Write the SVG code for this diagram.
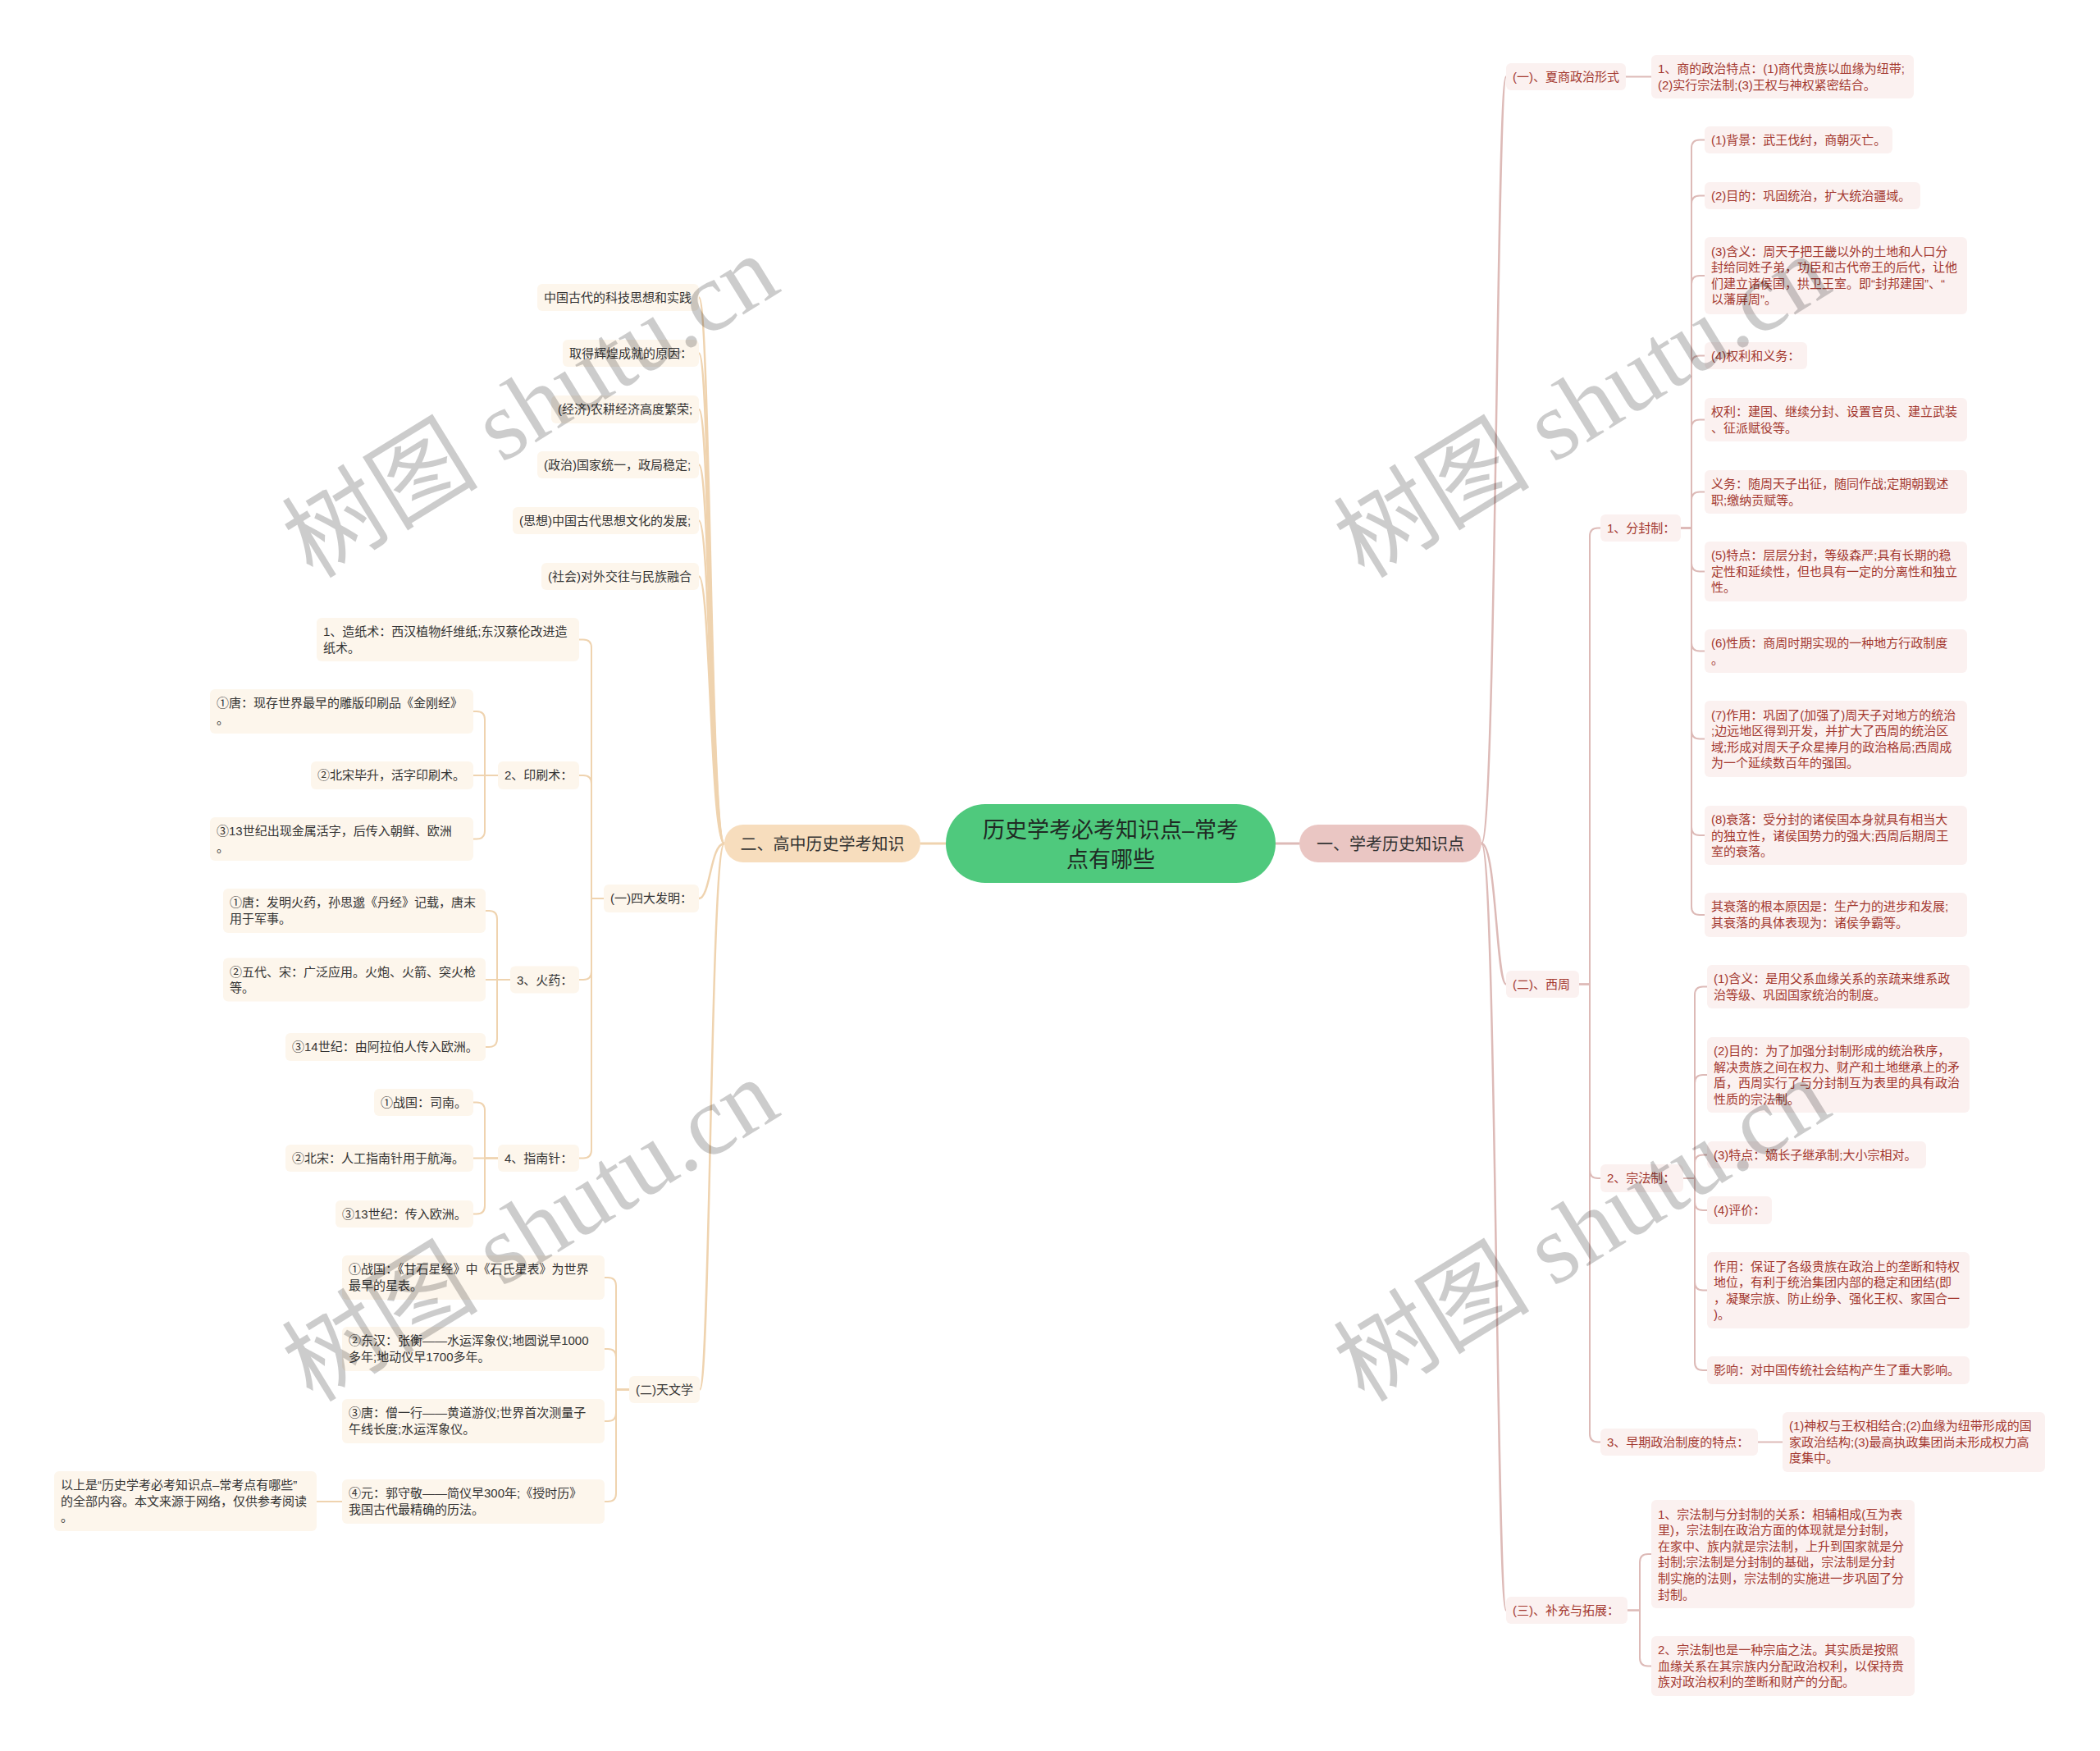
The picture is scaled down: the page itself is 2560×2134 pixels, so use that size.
<svg xmlns="http://www.w3.org/2000/svg" width="2560" height="2134" viewBox="0 0 2560 2134">
<style>
.t{font-family:"Liberation Sans","Noto Sans CJK SC",sans-serif;font-size:15px}
.tl{fill:#333333}
.tr{fill:#A3382F}
.bl{fill:#FDF6EC}
.br{fill:#FBF1F0}
.cl{fill:none;stroke:#EFD3AF;stroke-width:2}
.cr{fill:none;stroke:#DDBAB7;stroke-width:2}
.cl2{fill:none;stroke:#EFD3AF;stroke-width:2.5}
.cr2{fill:none;stroke:#DDBAB7;stroke-width:2.5}
.m{font-family:"Liberation Sans","Noto Sans CJK SC",sans-serif;font-size:20px;fill:#333333;text-anchor:middle}
.c{font-family:"Liberation Sans","Noto Sans CJK SC",sans-serif;font-size:27px;fill:#1f2a24;text-anchor:middle}
.wm{font-family:"Liberation Serif","Noto Sans CJK SC",serif;font-size:120px;fill:#000000;fill-opacity:0.2;text-anchor:middle}
</style>
<rect x="0" y="0" width="2560" height="2134" fill="#FFFFFF"/>
<g id="connectors">
<path class="cl2" d="M1153 1028 H1122" style="stroke-width:3"/>
<path class="cr2" d="M1555 1028 H1584" style="stroke-width:3"/>
<path class="cl2" d="M883 1028 C866 1028 866 362.5 852 362.5"/>
<path class="cl2" d="M883 1028 C866 1028 866 430.5 852 430.5"/>
<path class="cl2" d="M883 1028 C866 1028 866 499 852 499"/>
<path class="cl2" d="M883 1028 C866 1028 866 566.5 852 566.5"/>
<path class="cl2" d="M883 1028 C866 1028 866 634.5 852 634.5"/>
<path class="cl2" d="M883 1028 C866 1028 866 702.5 852 702.5"/>
<path class="cl2" d="M883 1028 C866 1028 866 1095 852 1095"/>
<path class="cl2" d="M883 1028 C866 1028 866 1693.5 853 1693.5"/>
<path class="cl" d="M736 1095 H721 V789.5 Q721 779.5 711 779.5 H706"/>
<path class="cl" d="M736 1095 H721 V955 Q721 945 711 945 H706"/>
<path class="cl" d="M736 1095 H721 V1184 Q721 1194 711 1194 H706"/>
<path class="cl" d="M736 1095 H721 V1401.5 Q721 1411.5 711 1411.5 H706"/>
<path class="cl" d="M607 945 H591 V877 Q591 867 581 867 H577"/>
<path class="cl" d="M607 945 H577"/>
<path class="cl" d="M607 945 H591 V1012.5 Q591 1022.5 581 1022.5 H577"/>
<path class="cl" d="M622 1194 H606 V1120 Q606 1110 596 1110 H592"/>
<path class="cl" d="M622 1194 H592"/>
<path class="cl" d="M622 1194 H606 V1266 Q606 1276 596 1276 H592"/>
<path class="cl" d="M607 1411.5 H591 V1353.5 Q591 1343.5 581 1343.5 H577"/>
<path class="cl" d="M607 1411.5 H577"/>
<path class="cl" d="M607 1411.5 H591 V1469.5 Q591 1479.5 581 1479.5 H577"/>
<path class="cl" d="M767 1693.5 H751 V1567 Q751 1557 741 1557 H737"/>
<path class="cl" d="M767 1693.5 H751 V1654 Q751 1644 741 1644 H737"/>
<path class="cl" d="M767 1693.5 H751 V1722 Q751 1732 741 1732 H737"/>
<path class="cl" d="M767 1693.5 H751 V1820 Q751 1830 741 1830 H737"/>
<path class="cl" d="M417 1830 H386"/>
<path class="cr2" d="M1806 1028 C1824 1028 1824 93.5 1836 93.5"/>
<path class="cr2" d="M1806 1028 C1824 1028 1824 1199.5 1836 1199.5"/>
<path class="cr2" d="M1806 1028 C1824 1028 1824 1962.5 1836 1962.5"/>
<path class="cr" d="M1982 93.5 H2013"/>
<path class="cr" d="M1925 1199.5 H1938 V653.5 Q1938 643.5 1948 643.5 H1951"/>
<path class="cr" d="M1925 1199.5 H1938 V1426 Q1938 1436 1948 1436 H1951"/>
<path class="cr" d="M1925 1199.5 H1938 V1747.5 Q1938 1757.5 1948 1757.5 H1951"/>
<path class="cr" d="M2049 643.5 H2062 V180.5 Q2062 170.5 2072 170.5 H2078"/>
<path class="cr" d="M2049 643.5 H2062 V248.5 Q2062 238.5 2072 238.5 H2078"/>
<path class="cr" d="M2049 643.5 H2062 V346 Q2062 336 2072 336 H2078"/>
<path class="cr" d="M2049 643.5 H2062 V443.5 Q2062 433.5 2072 433.5 H2078"/>
<path class="cr" d="M2049 643.5 H2062 V521.5 Q2062 511.5 2072 511.5 H2078"/>
<path class="cr" d="M2049 643.5 H2062 V609.5 Q2062 599.5 2072 599.5 H2078"/>
<path class="cr" d="M2049 643.5 H2062 V686.5 Q2062 696.5 2072 696.5 H2078"/>
<path class="cr" d="M2049 643.5 H2062 V783.5 Q2062 793.5 2072 793.5 H2078"/>
<path class="cr" d="M2049 643.5 H2062 V890.5 Q2062 900.5 2072 900.5 H2078"/>
<path class="cr" d="M2049 643.5 H2062 V1008 Q2062 1018 2072 1018 H2078"/>
<path class="cr" d="M2049 643.5 H2062 V1105 Q2062 1115 2072 1115 H2078"/>
<path class="cr" d="M2052 1436 H2066 V1212.5 Q2066 1202.5 2076 1202.5 H2081"/>
<path class="cr" d="M2052 1436 H2066 V1320 Q2066 1310 2076 1310 H2081"/>
<path class="cr" d="M2052 1436 H2066 V1417.5 Q2066 1407.5 2076 1407.5 H2081"/>
<path class="cr" d="M2052 1436 H2066 V1465 Q2066 1475 2076 1475 H2081"/>
<path class="cr" d="M2052 1436 H2066 V1562.5 Q2066 1572.5 2076 1572.5 H2081"/>
<path class="cr" d="M2052 1436 H2066 V1660 Q2066 1670 2076 1670 H2081"/>
<path class="cr" d="M2143 1757.5 H2173"/>
<path class="cr" d="M1984 1962.5 H1999 V1904 Q1999 1894 2009 1894 H2013"/>
<path class="cr" d="M1984 1962.5 H1999 V2020.5 Q1999 2030.5 2009 2030.5 H2013"/>
</g>
<g id="center">
<rect x="1153" y="980" width="402" height="96" rx="48" fill="#4FC97D"/>
<text class="c" x="1354" y="1021">历史学考必考知识点–常考</text>
<text class="c" x="1354" y="1057">点有哪些</text>
</g>
<g id="main-left">
<rect x="883" y="1005" width="239" height="46" rx="23" fill="#F7DDBD"/>
<text class="m" x="1002.5" y="1036">二、高中历史学考知识</text>
</g>
<g id="main-right">
<rect x="1584" y="1005" width="222" height="46" rx="23" fill="#EAC6C3"/>
<text class="m" x="1695" y="1036">一、学考历史知识点</text>
</g>
<g id="L1"><rect class="bl" x="655" y="346" width="197" height="33" rx="6"/><text class="t tl" x="663" y="368">中国古代的科技思想和实践</text></g>
<g id="L2"><rect class="bl" x="686" y="414" width="166" height="33" rx="6"/><text class="t tl" x="694" y="436">取得辉煌成就的原因：</text></g>
<g id="L3"><rect class="bl" x="672" y="482" width="180" height="34" rx="6"/><text class="t tl" x="680" y="504">(经济)农耕经济高度繁荣;</text></g>
<g id="L4"><rect class="bl" x="655" y="550" width="197" height="33" rx="6"/><text class="t tl" x="663" y="572">(政治)国家统一，政局稳定;</text></g>
<g id="L5"><rect class="bl" x="625" y="618" width="227" height="33" rx="6"/><text class="t tl" x="633" y="640">(思想)中国古代思想文化的发展;</text></g>
<g id="L6"><rect class="bl" x="660" y="686" width="192" height="33" rx="6"/><text class="t tl" x="668" y="708">(社会)对外交往与民族融合</text></g>
<g id="L7"><rect class="bl" x="736" y="1078" width="116" height="34" rx="6"/><text class="t tl" x="744" y="1100">(一)四大发明：</text></g>
<g id="L8"><rect class="bl" x="767" y="1677" width="86" height="33" rx="6"/><text class="t tl" x="775" y="1699">(二)天文学</text></g>
<g id="A1"><rect class="bl" x="386" y="753" width="320" height="53" rx="6"/><text class="t tl"><tspan x="394" y="775">1、造纸术：西汉植物纤维纸;东汉蔡伦改进造</tspan><tspan x="394" y="794.6">纸术。</tspan></text></g>
<g id="A2"><rect class="bl" x="607" y="928" width="99" height="34" rx="6"/><text class="t tl" x="615" y="950">2、印刷术：</text></g>
<g id="A3"><rect class="bl" x="622" y="1177.5" width="84" height="33" rx="6"/><text class="t tl" x="630" y="1199.5">3、火药：</text></g>
<g id="A4"><rect class="bl" x="607" y="1395" width="99" height="33" rx="6"/><text class="t tl" x="615" y="1417">4、指南针：</text></g>
<g id="B1"><rect class="bl" x="256" y="840" width="321" height="54" rx="6"/><text class="t tl"><tspan x="264" y="862">①唐：现存世界最早的雕版印刷品《金刚经》</tspan><tspan x="264" y="881.6">。</tspan></text></g>
<g id="B2"><rect class="bl" x="379" y="928" width="198" height="34" rx="6"/><text class="t tl" x="387" y="950">②北宋毕升，活字印刷术。</text></g>
<g id="B3"><rect class="bl" x="256" y="996" width="321" height="53" rx="6"/><text class="t tl"><tspan x="264" y="1018">③13世纪出现金属活字，后传入朝鲜、欧洲</tspan><tspan x="264" y="1037.6">。</tspan></text></g>
<g id="C1"><rect class="bl" x="272" y="1083" width="320" height="54" rx="6"/><text class="t tl"><tspan x="280" y="1105">①唐：发明火药，孙思邈《丹经》记载，唐末</tspan><tspan x="280" y="1124.6">用于军事。</tspan></text></g>
<g id="C2"><rect class="bl" x="272" y="1167.5" width="320" height="53" rx="6"/><text class="t tl"><tspan x="280" y="1189.5">②五代、宋：广泛应用。火炮、火箭、突火枪</tspan><tspan x="280" y="1209.1">等。</tspan></text></g>
<g id="C3"><rect class="bl" x="348" y="1259" width="244" height="34" rx="6"/><text class="t tl" x="356" y="1281">③14世纪：由阿拉伯人传入欧洲。</text></g>
<g id="D1"><rect class="bl" x="456" y="1327" width="121" height="33" rx="6"/><text class="t tl" x="464" y="1349">①战国：司南。</text></g>
<g id="D2"><rect class="bl" x="348" y="1395" width="229" height="33" rx="6"/><text class="t tl" x="356" y="1417">②北宋：人工指南针用于航海。</text></g>
<g id="D3"><rect class="bl" x="409" y="1463" width="168" height="33" rx="6"/><text class="t tl" x="417" y="1485">③13世纪：传入欧洲。</text></g>
<g id="E1"><rect class="bl" x="417" y="1530" width="320" height="54" rx="6"/><text class="t tl"><tspan x="425" y="1552">①战国：《甘石星经》中《石氏星表》为世界</tspan><tspan x="425" y="1571.6">最早的星表。</tspan></text></g>
<g id="E2"><rect class="bl" x="417" y="1617" width="320" height="54" rx="6"/><text class="t tl"><tspan x="425" y="1639">②东汉：张衡——水运浑象仪;地圆说早1000</tspan><tspan x="425" y="1658.6">多年;地动仪早1700多年。</tspan></text></g>
<g id="E3"><rect class="bl" x="417" y="1705" width="320" height="54" rx="6"/><text class="t tl"><tspan x="425" y="1727">③唐：僧一行——黄道游仪;世界首次测量子</tspan><tspan x="425" y="1746.6">午线长度;水运浑象仪。</tspan></text></g>
<g id="E4"><rect class="bl" x="417" y="1803" width="320" height="54" rx="6"/><text class="t tl"><tspan x="425" y="1825">④元：郭守敬——简仪早300年;《授时历》</tspan><tspan x="425" y="1844.6">我国古代最精确的历法。</tspan></text></g>
<g id="S"><rect class="bl" x="66" y="1793" width="320" height="73" rx="6"/><text class="t tl"><tspan x="74" y="1815">以上是“历史学考必考知识点–常考点有哪些”</tspan><tspan x="74" y="1834.6">的全部内容。本文来源于网络，仅供参考阅读</tspan><tspan x="74" y="1854.2">。</tspan></text></g>
<g id="R1"><rect class="br" x="1836" y="77" width="146" height="33" rx="6"/><text class="t tr" x="1844" y="99">(一)、夏商政治形式</text></g>
<g id="R1a"><rect class="br" x="2013" y="67" width="320" height="53" rx="6"/><text class="t tr"><tspan x="2021" y="89">1、商的政治特点：(1)商代贵族以血缘为纽带;</tspan><tspan x="2021" y="108.6">(2)实行宗法制;(3)王权与神权紧密结合。</tspan></text></g>
<g id="R2"><rect class="br" x="1836" y="1183" width="89" height="33" rx="6"/><text class="t tr" x="1844" y="1205">(二)、西周</text></g>
<g id="R3"><rect class="br" x="1836" y="1946" width="148" height="33" rx="6"/><text class="t tr" x="1844" y="1968">(三)、补充与拓展：</text></g>
<g id="F1"><rect class="br" x="1951" y="627" width="98" height="33" rx="6"/><text class="t tr" x="1959" y="649">1、分封制：</text></g>
<g id="F2"><rect class="br" x="1951" y="1419" width="101" height="34" rx="6"/><text class="t tr" x="1959" y="1441">2、宗法制：</text></g>
<g id="F3"><rect class="br" x="1951" y="1741" width="192" height="33" rx="6"/><text class="t tr" x="1959" y="1763">3、早期政治制度的特点：</text></g>
<g id="F3a"><rect class="br" x="2173" y="1721" width="320" height="73" rx="6"/><text class="t tr"><tspan x="2181" y="1743">(1)神权与王权相结合;(2)血缘为纽带形成的国</tspan><tspan x="2181" y="1762.6">家政治结构;(3)最高执政集团尚未形成权力高</tspan><tspan x="2181" y="1782.2">度集中。</tspan></text></g>
<g id="G1"><rect class="br" x="2078" y="154" width="229" height="33" rx="6"/><text class="t tr" x="2086" y="176">(1)背景：武王伐纣，商朝灭亡。</text></g>
<g id="G2"><rect class="br" x="2078" y="222" width="263" height="33" rx="6"/><text class="t tr" x="2086" y="244">(2)目的：巩固统治，扩大统治疆域。</text></g>
<g id="G3"><rect class="br" x="2078" y="289" width="320" height="94" rx="6"/><text class="t tr"><tspan x="2086" y="311.5">(3)含义：周天子把王畿以外的土地和人口分</tspan><tspan x="2086" y="331.1">封给同姓子弟，功臣和古代帝王的后代，让他</tspan><tspan x="2086" y="350.7">们建立诸侯国，拱卫王室。即“封邦建国”、“</tspan><tspan x="2086" y="370.3">以藩屏周”。</tspan></text></g>
<g id="G4"><rect class="br" x="2078" y="417" width="125" height="33" rx="6"/><text class="t tr" x="2086" y="439">(4)权利和义务：</text></g>
<g id="G5"><rect class="br" x="2078" y="485" width="320" height="53" rx="6"/><text class="t tr"><tspan x="2086" y="507">权利：建国、继续分封、设置官员、建立武装</tspan><tspan x="2086" y="526.6">、征派赋役等。</tspan></text></g>
<g id="G6"><rect class="br" x="2078" y="573" width="320" height="53" rx="6"/><text class="t tr"><tspan x="2086" y="595">义务：随周天子出征，随同作战;定期朝觐述</tspan><tspan x="2086" y="614.6">职;缴纳贡赋等。</tspan></text></g>
<g id="G7"><rect class="br" x="2078" y="660" width="320" height="73" rx="6"/><text class="t tr"><tspan x="2086" y="682">(5)特点：层层分封，等级森严;具有长期的稳</tspan><tspan x="2086" y="701.6">定性和延续性，但也具有一定的分离性和独立</tspan><tspan x="2086" y="721.2">性。</tspan></text></g>
<g id="G8"><rect class="br" x="2078" y="767" width="320" height="53" rx="6"/><text class="t tr"><tspan x="2086" y="789">(6)性质：商周时期实现的一种地方行政制度</tspan><tspan x="2086" y="808.6">。</tspan></text></g>
<g id="G9"><rect class="br" x="2078" y="854" width="320" height="93" rx="6"/><text class="t tr"><tspan x="2086" y="876.5">(7)作用：巩固了(加强了)周天子对地方的统治</tspan><tspan x="2086" y="896.1">;边远地区得到开发，并扩大了西周的统治区</tspan><tspan x="2086" y="915.7">域;形成对周天子众星捧月的政治格局;西周成</tspan><tspan x="2086" y="935.3">为一个延续数百年的强国。</tspan></text></g>
<g id="G10"><rect class="br" x="2078" y="982" width="320" height="72" rx="6"/><text class="t tr"><tspan x="2086" y="1004">(8)衰落：受分封的诸侯国本身就具有相当大</tspan><tspan x="2086" y="1023.6">的独立性，诸侯国势力的强大;西周后期周王</tspan><tspan x="2086" y="1043.2">室的衰落。</tspan></text></g>
<g id="G11"><rect class="br" x="2078" y="1088" width="320" height="54" rx="6"/><text class="t tr"><tspan x="2086" y="1110">其衰落的根本原因是：生产力的进步和发展;</tspan><tspan x="2086" y="1129.6">其衰落的具体表现为：诸侯争霸等。</tspan></text></g>
<g id="H1"><rect class="br" x="2081" y="1176" width="320" height="53" rx="6"/><text class="t tr"><tspan x="2089" y="1198">(1)含义：是用父系血缘关系的亲疏来维系政</tspan><tspan x="2089" y="1217.6">治等级、巩固国家统治的制度。</tspan></text></g>
<g id="H2"><rect class="br" x="2081" y="1264" width="320" height="92" rx="6"/><text class="t tr"><tspan x="2089" y="1286">(2)目的：为了加强分封制形成的统治秩序，</tspan><tspan x="2089" y="1305.6">解决贵族之间在权力、财产和土地继承上的矛</tspan><tspan x="2089" y="1325.2">盾，西周实行了与分封制互为表里的具有政治</tspan><tspan x="2089" y="1344.8">性质的宗法制。</tspan></text></g>
<g id="H3"><rect class="br" x="2081" y="1391" width="267" height="33" rx="6"/><text class="t tr" x="2089" y="1413">(3)特点：嫡长子继承制;大小宗相对。</text></g>
<g id="H4"><rect class="br" x="2081" y="1458" width="79" height="34" rx="6"/><text class="t tr" x="2089" y="1480">(4)评价：</text></g>
<g id="H5"><rect class="br" x="2081" y="1526" width="320" height="93" rx="6"/><text class="t tr"><tspan x="2089" y="1548.5">作用：保证了各级贵族在政治上的垄断和特权</tspan><tspan x="2089" y="1568.1">地位，有利于统治集团内部的稳定和团结(即</tspan><tspan x="2089" y="1587.7">，凝聚宗族、防止纷争、强化王权、家国合一</tspan><tspan x="2089" y="1607.3">)。</tspan></text></g>
<g id="H6"><rect class="br" x="2081" y="1653" width="320" height="34" rx="6"/><text class="t tr" x="2089" y="1675">影响：对中国传统社会结构产生了重大影响。</text></g>
<g id="K1"><rect class="br" x="2013" y="1828" width="321" height="132" rx="6"/><text class="t tr"><tspan x="2021" y="1850.5">1、宗法制与分封制的关系：相辅相成(互为表</tspan><tspan x="2021" y="1870.1">里)，宗法制在政治方面的体现就是分封制，</tspan><tspan x="2021" y="1889.7">在家中、族内就是宗法制，上升到国家就是分</tspan><tspan x="2021" y="1909.3">封制;宗法制是分封制的基础，宗法制是分封</tspan><tspan x="2021" y="1928.9">制实施的法则，宗法制的实施进一步巩固了分</tspan><tspan x="2021" y="1948.5">封制。</tspan></text></g>
<g id="K2"><rect class="br" x="2013" y="1994" width="321" height="73" rx="6"/><text class="t tr"><tspan x="2021" y="2016">2、宗法制也是一种宗庙之法。其实质是按照</tspan><tspan x="2021" y="2035.6">血缘关系在其宗族内分配政治权利，以保持贵</tspan><tspan x="2021" y="2055.2">族对政治权利的垄断和财产的分配。</tspan></text></g>
<g id="watermark">
<text class="wm" transform="translate(668,530) rotate(-31.6)">树图 shutu.cn</text>
<text class="wm" transform="translate(1950,530) rotate(-31.6)">树图 shutu.cn</text>
<text class="wm" transform="translate(668,1534) rotate(-31.6)">树图 shutu.cn</text>
<text class="wm" transform="translate(1950,1534) rotate(-31.6)">树图 shutu.cn</text>
</g>
</svg>
